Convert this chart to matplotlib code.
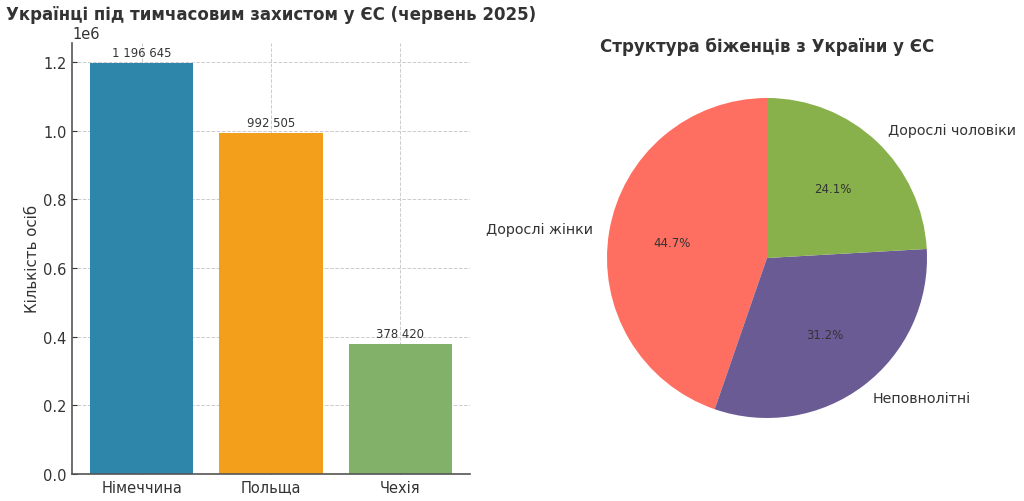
import matplotlib
matplotlib.use("Agg")
import matplotlib.pyplot as plt

countries = ["Німеччина", "Польща", "Чехія"]
people = [1196645, 992505, 378420]
bar_colors = ["#2E86AB", "#F39F1C", "#82B269"]

groups = ["Дорослі жінки", "Неповнолітні", "Дорослі чоловіки"]
shares = [44.7, 31.2, 24.1]
pie_colors = ["#FF6F61", "#6B5B95", "#88B04B"]

plt.rcParams["font.family"] = ["DejaVu Sans"]
txt = "#333333"
plt.rcParams["text.color"] = txt
plt.rcParams["axes.labelcolor"] = txt
plt.rcParams["xtick.color"] = txt
plt.rcParams["ytick.color"] = txt

fig = plt.figure(figsize=(10.24, 5.02), dpi=100)
ax1 = fig.add_axes([72/1024, (502-475)/502, 398/1024, (475-43.6)/502])
ax2 = fig.add_axes([567/1024, (502-459)/502, 400/1024, 400/502])

bars = ax1.bar(countries, people, color=bar_colors, width=0.8, zorder=2)
ax1.grid(True, linestyle="--", color="#cccccc", linewidth=0.7, zorder=0)
ax1.set_axisbelow(True)
for s in ["top", "right"]:
    ax1.spines[s].set_visible(False)
for s in ["left", "bottom"]:
    ax1.spines[s].set_color("#555555")
    ax1.spines[s].set_linewidth(1.2)
ax1.tick_params(labelsize=10.5, colors="#333333", direction="in", pad=4)
ax1.set_ylabel("Кількість осіб", fontsize=10.8, labelpad=2)
fig.text(271/1024, 1 - 15/502, "Українці під тимчасовим захистом у ЄС (червень 2025)",
         fontsize=12, fontweight="bold", ha="center", va="center")
ax1.yaxis.get_offset_text().set_fontsize(10.5)
for b, v in zip(bars, people):
    ax1.annotate(f"{v:,}".replace(",", " "), (b.get_x() + b.get_width()/2, v),
                 xytext=(0, 3), textcoords="offset points",
                 ha="center", va="bottom", fontsize=8.4, color="#333333")

wedges, texts, autotexts = ax2.pie(shares, labels=groups, colors=pie_colors,
                                    autopct="%1.1f%%", startangle=90,
                                    textprops={"fontsize": 10.3, "color": "#333333"})
for t in autotexts:
    t.set_fontsize(8.5)
fig.text(767/1024, 1 - 47/502, "Структура біженців з України у ЄС", fontsize=12,
         fontweight="bold", ha="center", va="center")

fig.savefig("out.png", dpi=100)
